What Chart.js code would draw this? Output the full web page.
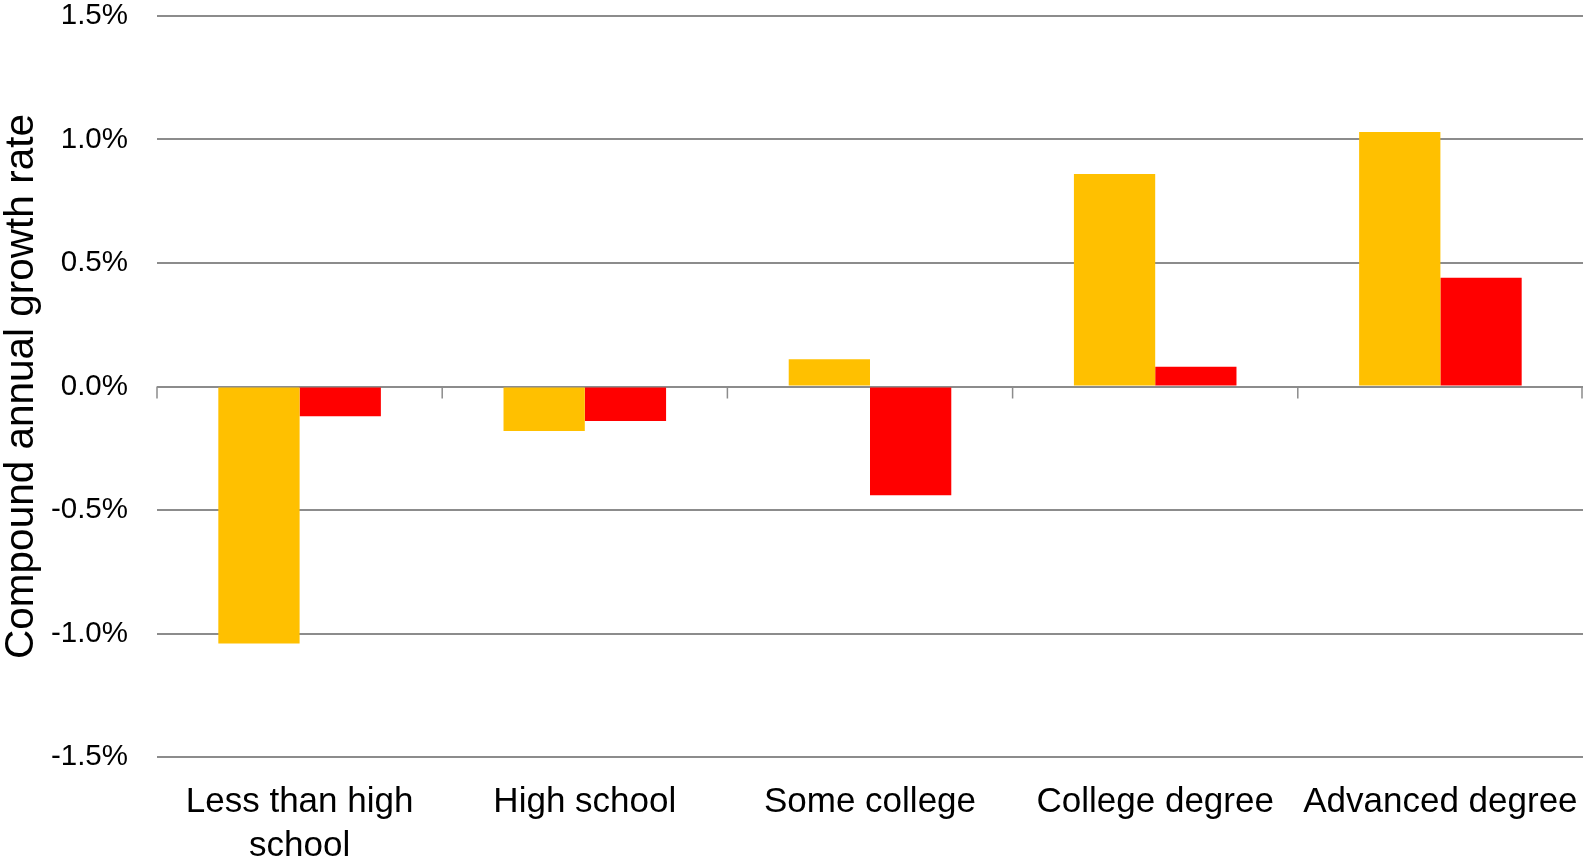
<!DOCTYPE html>
<html>
<head>
<meta charset="utf-8">
<title>Compound annual growth rate by education</title>
<script src="https://cdn.jsdelivr.net/npm/chart.js@4/dist/chart.umd.min.js"></script>
<style>
  html, body { margin: 0; padding: 0; background: #ffffff; }
  #wrap { width: 1585px; height: 867px; position: relative; }
</style>
</head>
<body>
<div id="wrap"><canvas id="chart" width="1585" height="867"></canvas></div>
<script>
// Education groups along the x axis
const categories = [
  ['Less than high', 'school'],
  'High school',
  'Some college',
  'College degree',
  'Advanced degree'
];

// Compound annual growth rate, in percent
const seriesA = [-1.04, -0.18, 0.11, 0.86, 1.03];
const seriesB = [-0.12, -0.14, -0.44, 0.08, 0.44];

// Value axis range and tick step, in percent
const yMin = -1.5;
const yMax = 1.5;
const yStep = 0.5;

const gridColor = '#8c8c8c';

// Short downward ticks on the zero line at each category boundary
const zeroLineTicks = {
  id: 'zeroLineTicks',
  afterDatasetsDraw(chart) {
    const xs = chart.scales.x;
    const ys = chart.scales.y;
    const y0 = ys.getPixelForValue(0);
    const n = xs.getLabels().length;
    const step = (xs.right - xs.left) / n;
    const ctx = chart.ctx;
    ctx.save();
    ctx.strokeStyle = gridColor;
    ctx.lineWidth = 1.5;
    ctx.beginPath();
    for (let k = 0; k <= n; k++) {
      const x = Math.min(xs.left + k * step, xs.right - 1);
      ctx.moveTo(x, y0);
      ctx.lineTo(x, y0 + 12);
    }
    ctx.stroke();
    ctx.restore();
  }
};

new Chart(document.getElementById('chart'), {
  type: 'bar',
  data: {
    labels: categories,
    datasets: [
      {
        label: 'Series A',
        data: seriesA,
        backgroundColor: '#FFC000',
        borderWidth: 0,
        categoryPercentage: 0.57,
        barPercentage: 1.0
      },
      {
        label: 'Series B',
        data: seriesB,
        backgroundColor: '#FF0000',
        borderWidth: 0,
        categoryPercentage: 0.57,
        barPercentage: 1.0
      }
    ]
  },
  options: {
    responsive: false,
    animation: false,
    devicePixelRatio: 1,
    layout: { padding: { top: 16, right: 2, bottom: 0, left: 0 } },
    plugins: {
      legend: { display: false },
      tooltip: { enabled: false }
    },
    scales: {
      x: {
        grid: { display: false, drawTicks: false },
        border: { display: false },
        ticks: {
          color: '#000000',
          padding: 23,
          maxRotation: 0,
          autoSkip: false,
          font: { family: '"Liberation Sans", Arial, sans-serif', size: 35, lineHeight: 1.26 }
        },
        afterFit(scale) {
          scale.height = 110;
          scale.paddingLeft = 0;
          scale.paddingRight = 0;
        }
      },
      y: {
        min: yMin,
        max: yMax,
        grid: {
          color: gridColor,
          lineWidth: 2,
          drawTicks: false
        },
        border: { display: false },
        ticks: {
          stepSize: yStep,
          color: '#000000',
          padding: 29,
          font: { family: '"Liberation Sans", Arial, sans-serif', size: 29.5 },
          callback: (v) => v.toFixed(1) + '%'
        },
        title: {
          display: true,
          text: 'Compound annual growth rate',
          color: '#000000',
          padding: { top: 2, bottom: 0 },
          font: { family: '"Liberation Sans", Arial, sans-serif', size: 40.5, lineHeight: 1 }
        },
        afterFit(scale) {
          scale.width = 157;
          scale.paddingTop = 0;
          scale.paddingBottom = 0;
        }
      }
    }
  },
  plugins: [zeroLineTicks]
});
</script>
</body>
</html>
